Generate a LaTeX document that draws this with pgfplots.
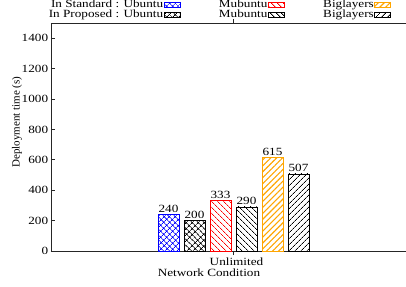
\documentclass[border=0pt]{standalone}
\usepackage{fontspec}
\setmainfont{Liberation Serif}[FakeStretch=1.2]
\newfontfamily\plainserif{Liberation Serif}
\usepackage{pgfplots}
\pgfplotsset{compat=1.18}
\usetikzlibrary{patterns.meta}
\definecolor{orng}{RGB}{255,165,0}
\tikzset{
  hx/.style={pattern={Hatch[angle=45,distance=4pt,line width=0.7pt]}},
  ln/.style={pattern={Lines[angle=45,distance=4pt,line width=0.8pt]}},
  lno/.style={pattern={Lines[angle=45,distance=4.2pt,line width=1.1pt]}},
  ls/.style={pattern={Lines[angle=-45,distance=4pt,line width=0.8pt]}},
}
\begin{document}
\fontsize{11}{12}\selectfont
\begin{tikzpicture}
\begin{axis}[
  scale only axis, width=355pt, height=228pt,
  xmin=-182.5, xmax=172.5, ymin=0, ymax=1500,
  ytick={0,200,...,1400},
  yticklabel={\pgfmathprintnumber{\tick}},
  xtick={0}, xticklabels={Unlimited},
  xticklabel style={xshift=3pt, yshift=1.5pt},
  axis x line=box, axis y line=left,
  y axis line style={-}, x axis line style={-},
  axis line style={line width=0.9pt, black!85},
  tick align=inside, major tick length=4pt,
  tick style={black!85, line width=0.6pt},
  /pgf/number format/assume math mode=true,
  /pgf/number format/1000 sep={},
  ticklabel style={font=\fontsize{11}{12}\selectfont},
  yticklabel style={xshift=1pt},
  label style={font=\fontsize{11}{12}\selectfont},
  xlabel={Network Condition},
  xlabel style={at={(axis description cs:0.445,0)}, anchor=north, yshift=-14pt},
  ylabel={Deployment time (s)},
  ylabel style={at={(axis description cs:-0.0958,0.566)}, anchor=center, font=\plainserif\fontsize{11}{12}\selectfont},
  ybar, bar width=21, bar shift=0pt,
  nodes near coords,
  every node near coord/.append style={font=\fontsize{11}{12}\selectfont, inner sep=1.5pt},
  clip=false,
  legend columns=3,
  legend plot pos=right,
  legend cell align=right,
  legend image code/.code={\draw[#1, line width=0.6pt] (0pt,-2.5pt) rectangle (16pt,2.5pt);},
  legend style={draw=none, fill=none, at={(axis description cs:0,1)}, anchor=south west,
    xshift=-3pt, yshift=4pt, inner sep=0pt, row sep=1.5pt,
    font=\fontsize{11}{11}\selectfont,
    nodes={inner sep=0.6pt, text height=6.8pt, text depth=0.5pt},
    /tikz/every even column/.append style={column sep=38pt}},
]
\addplot[draw=blue, hx, pattern color=blue, line width=0.7pt] coordinates {(-65,240)};
\addlegendentry{In Standard : Ubuntu}
\addplot[draw=red, ls, pattern color=red, line width=0.7pt] coordinates {(-13,333)};
\addlegendentry{Mubuntu}
\addplot[draw=orng, lno, pattern color=orng, line width=0.7pt] coordinates {(39,615)};
\addlegendentry{Biglayers}
\addplot[draw=black, hx, pattern color=black, line width=0.7pt] coordinates {(-39,200)};
\addlegendentry{In Proposed : Ubuntu}
\addplot[draw=black, ls, pattern color=black, line width=0.7pt] coordinates {(13,290)};
\addlegendentry{Mubuntu}
\addplot[draw=black, ln, pattern color=black, line width=0.7pt] coordinates {(65,507)};
\addlegendentry{Biglayers}
\end{axis}
\pgfresetboundingbox
\path ([xshift=-51pt,yshift=-35pt]current axis.south west) rectangle ([yshift=23pt]current axis.north east);
\end{tikzpicture}
\end{document}
